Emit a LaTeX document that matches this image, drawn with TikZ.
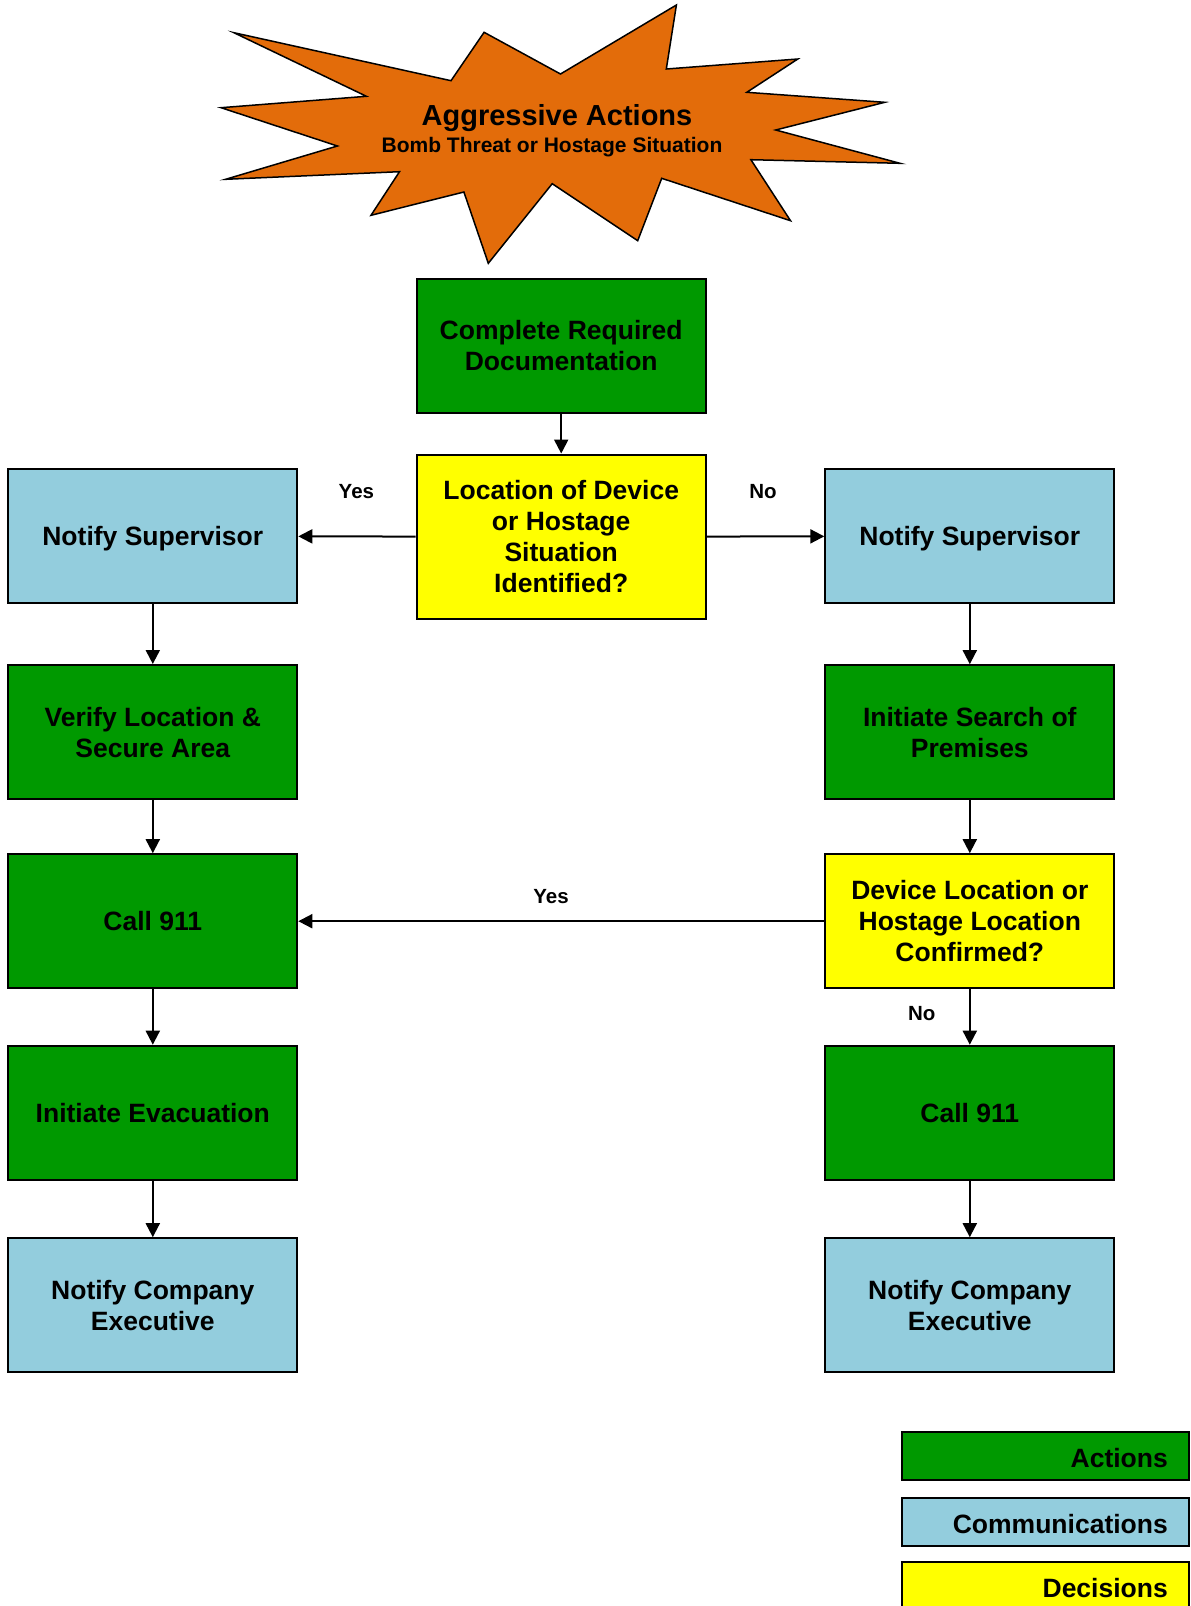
\documentclass[tikz,border=0pt]{standalone}
\usepackage{fontspec}
\setmainfont{Liberation Sans}
\usetikzlibrary{arrows.meta}
\definecolor{actgreen}{RGB}{0,153,0}
\definecolor{commblue}{RGB}{147,205,221}
\definecolor{decyellow}{RGB}{255,255,0}
\definecolor{burst}{RGB}{227,108,10}

\begin{document}
\begin{tikzpicture}[x=1pt,y=-1pt,
  box/.style={draw=black, line width=2pt, rectangle, minimum width=289pt,
    minimum height=134pt, inner sep=0pt, align=center, text depth=0pt,
    font=\fontsize{26.5}{31}\selectfont\bfseries},
  action/.style={box, fill=actgreen},
  comm/.style={box, fill=commblue},
  decision/.style={box, fill=decyellow},
  flow/.style={line width=2pt, -{Triangle[length=14pt,width=14pt]}},
  answer/.style={font=\fontsize{20.5}{24}\selectfont\bfseries, inner sep=0pt},
  legendbox/.style={draw=black, line width=2pt, minimum width=287pt,
    minimum height=48pt, inner sep=0pt, text width=245pt, align=right,
    font=\fontsize{26.5}{31}\selectfont\bfseries},
  legendtext/.style={anchor=east, inner sep=0pt, text depth=0pt,
    font=\fontsize{26.5}{31}\selectfont\bfseries},
]
\useasboundingbox (0,0) rectangle (1191,1606);

% explosion burst
\draw[fill=burst, line width=1.5pt, line join=miter]
  (233.9,32.7) -- (451,80.7) -- (484.1,32.3) -- (560.5,74) -- (676.4,5)
  -- (666.3,69) -- (797.8,59) -- (746.8,92.3) -- (884.8,102.3)
  -- (775.7,130) -- (900,163.3) -- (750.9,159.7) -- (790.5,220.7)
  -- (661.7,178.3) -- (637.7,240.7) -- (552.2,183.7) -- (488.3,263.3)
  -- (463.9,192) -- (371,215.3) -- (399.5,171.7) -- (225.6,179.3)
  -- (337.4,146) -- (221,107.7) -- (366.4,96.3) -- cycle;
\node[font=\fontsize{29}{34}\selectfont\bfseries, inner sep=0pt, text depth=0pt] (title) at (557,114.7) {Aggressive Actions};
\node[font=\fontsize{21}{25}\selectfont\bfseries, inner sep=0pt, text depth=0pt] (subtitle) at (552,144.4) {Bomb Threat or Hostage Situation};

% flow boxes
\node[action] (doc) at (561.2,345.6) {Complete Required\\Documentation};
\node[decision, minimum height=164.5pt] (q1) at (561.2,536.8) {Location of Device\\or Hostage\\Situation\\Identified?};
\node[comm] (supL) at (152.8,536.1) {Notify Supervisor};
\node[comm] (supR) at (969.8,536.1) {Notify Supervisor};
\node[action] (verify) at (152.8,732) {Verify Location \&\\Secure Area};
\node[action] (search) at (969.8,732.2) {Initiate Search of\\Premises};
\node[action] (callL) at (152.8,921.2) {Call 911};
\node[decision] (q2) at (969.8,921.2) {Device Location or\\Hostage Location\\Confirmed?};
\node[action] (evac) at (152.8,1112.7) {Initiate Evacuation};
\node[action] (callR) at (969.8,1112.7) {Call 911};
\node[comm] (execL) at (152.8,1305.2) {Notify Company\\Executive};
\node[comm] (execR) at (969.8,1305.2) {Notify Company\\Executive};

% connectors
\draw[flow] (doc) -- (q1);
\draw[flow] (q1) -- (supL);
\draw[flow] (q1) -- (supR);
\draw[flow] (supL) -- (verify);
\draw[flow] (verify) -- (callL);
\draw[flow] (callL) -- (evac);
\draw[flow] (evac) -- (execL);
\draw[flow] (supR) -- (search);
\draw[flow] (search) -- (q2);
\draw[flow] (q2) -- (callL);
\draw[flow] (q2) -- (callR);
\draw[flow] (callR) -- (execR);

% answers
\node[answer] (yes1) at (356.4,491.6) {Yes};
\node[answer] (no1) at (763,491.6) {No};
\node[answer] (yes2) at (551,897) {Yes};
\node[answer] (no2) at (921.7,1013.9) {No};

% legend
\node[legendbox, fill=actgreen] (keyA) at (1045.5,1455.9) {};
\node[legendbox, fill=commblue] (keyC) at (1045.5,1521.5) {};
\node[legendbox, fill=decyellow, minimum height=52pt] (keyD) at (1045.5,1587.7) {};
\node[legendtext] (keyAt) at (1168,1457.6) {Actions};
\node[legendtext] (keyCt) at (1168,1523.4) {Communications};
\node[legendtext] (keyDt) at (1168,1587.5) {Decisions};
\end{tikzpicture}
\end{document}
